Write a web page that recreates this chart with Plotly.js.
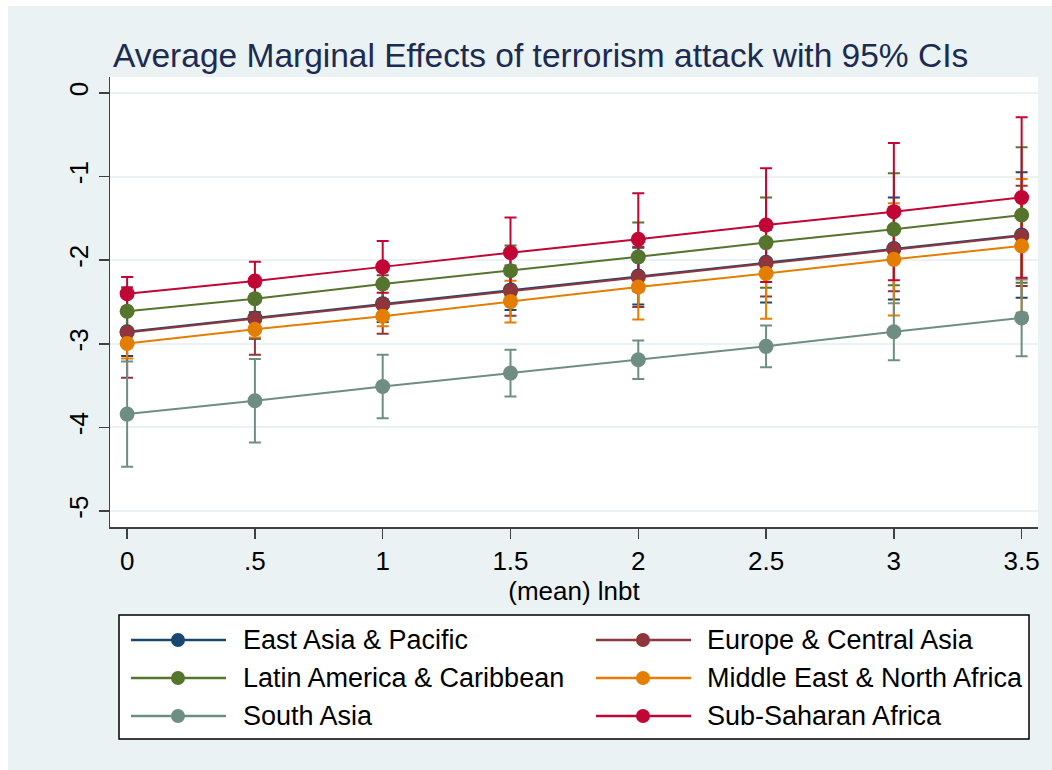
<!DOCTYPE html>
<html>
<head>
<meta charset="utf-8">
<script src="https://cdn.plot.ly/plotly-3.0.1.min.js"></script>
<style>
html,body{margin:0;padding:0;background:#ffffff;}
#chart{width:1052px;height:770px;}
</style>
</head>
<body>
<div id="chart"></div>
<script>
// ---- data ----
var xs = [0, 0.5, 1, 1.5, 2, 2.5, 3, 3.5];
var xTickLabels = ["0", ".5", "1", "1.5", "2", "2.5", "3", "3.5"];
var yTickVals = [0, -1, -2, -3, -4, -5];
var yTickLabels = ["0", "-1", "-2", "-3", "-4", "-5"];

var regions = ["East Asia & Pacific", "Europe & Central Asia", "Latin America & Caribbean",
               "Middle East & North Africa", "South Asia", "Sub-Saharan Africa"];
var colors = ["#1a476f", "#90353b", "#55752f", "#e37e00", "#6e8e84", "#c10534"];

var eastAsia      = [-2.855, -2.69, -2.52, -2.355, -2.19, -2.025, -1.86, -1.70];
var europe        = [-2.865, -2.70, -2.53, -2.365, -2.20, -2.035, -1.87, -1.71];
var latinAmerica  = [-2.61, -2.46, -2.285, -2.125, -1.96, -1.79, -1.63, -1.46];
var middleEast    = [-2.995, -2.825, -2.67, -2.495, -2.32, -2.16, -1.99, -1.83];
var southAsia     = [-3.84, -3.68, -3.51, -3.35, -3.19, -3.03, -2.855, -2.69];
var subSaharan    = [-2.40, -2.25, -2.08, -1.91, -1.75, -1.58, -1.42, -1.25];

var eastAsiaCI     = [0.29, 0.25, 0.22, 0.24, 0.34, 0.48, 0.61, 0.75];
var europeCI       = [0.54, 0.43, 0.35, 0.30, 0.36, 0.40, 0.50, 0.60];
var latinAmericaCI = [0.20, 0.16, 0.19, 0.30, 0.41, 0.54, 0.67, 0.81];
var middleEastCI   = [0.18, 0.10, 0.12, 0.25, 0.39, 0.54, 0.67, 0.80];
var southAsiaCI    = [0.63, 0.50, 0.38, 0.28, 0.23, 0.25, 0.34, 0.46];
var subSaharanCI   = [0.20, 0.23, 0.31, 0.42, 0.55, 0.68, 0.82, 0.96];

var series = [eastAsia, europe, latinAmerica, middleEast, southAsia, subSaharan];
var cis = [eastAsiaCI, europeCI, latinAmericaCI, middleEastCI, southAsiaCI, subSaharanCI];

// ---- layout geometry (pixels) ----
var W = 1052, H = 770;
var mL = 110, mR = 14, mT = 77, mB = 243;
var pw = W - mL - mR, ph = H - mT - mB;
function px(x){ return (x - mL) / pw; }
function py(y){ return (H - mB - y) / ph; }

var FONT = "Liberation Sans, Arial, sans-serif";

var traces = [];
// confidence intervals first (drawn beneath lines)
for (var i = 0; i < series.length; i++) {
  traces.push({
    x: xs, y: series[i], type: "scatter", mode: "markers",
    marker: {size: 1, opacity: 0, color: colors[i]},
    error_y: {type: "data", array: cis[i], symmetric: true, color: colors[i], thickness: 2, width: 6},
    showlegend: false, hoverinfo: "skip"
  });
}
for (var j = 0; j < series.length; j++) {
  traces.push({
    x: xs, y: series[j], type: "scatter", mode: "lines+markers", name: regions[j],
    line: {color: colors[j], width: 2},
    marker: {color: colors[j], size: 15, line: {width: 0}},
    showlegend: false
  });
}

// ---- custom legend ----
var shapes = [];
var annotations = [];
// outer white frame at left/top
shapes.push({type: "rect", xref: "paper", yref: "paper", x0: px(0), x1: px(8), y0: py(H), y1: py(0),
  fillcolor: "#ffffff", line: {width: 0}, layer: "below"});
shapes.push({type: "rect", xref: "paper", yref: "paper", x0: px(0), x1: px(W), y0: py(6), y1: py(0),
  fillcolor: "#ffffff", line: {width: 0}, layer: "below"});
// legend box
shapes.push({type: "rect", xref: "paper", yref: "paper", x0: px(119), x1: px(1029), y0: py(739), y1: py(615),
  fillcolor: "#ffffff", line: {color: "#000000", width: 1.5}});
var colLineX = [[131, 226], [596, 691]];
var colMarkX = [178, 643];
var colTextX = [241, 705];
var rowY = [640, 678, 716];
for (var k = 0; k < regions.length; k++) {
  var c = k % 2, r = Math.floor(k / 2);
  shapes.push({type: "line", xref: "paper", yref: "paper",
    x0: px(colLineX[c][0]), x1: px(colLineX[c][1]), y0: py(rowY[r]), y1: py(rowY[r]),
    line: {color: colors[k], width: 2.5}});
  shapes.push({type: "circle", xref: "paper", yref: "paper", xsizemode: "pixel", ysizemode: "pixel",
    xanchor: px(colMarkX[c]), yanchor: py(rowY[r]), x0: -7, x1: 7, y0: -7, y1: 7,
    fillcolor: colors[k], line: {width: 0}});
  annotations.push({xref: "paper", yref: "paper", x: px(colTextX[c]), y: py(rowY[r]),
    xanchor: "left", yanchor: "middle", text: regions[k], showarrow: false,
    font: {family: FONT, size: 27, color: "#000000"}});
}

var layout = {
  width: W, height: H,
  margin: {l: mL, r: mR, t: mT, b: mB, pad: 0},
  paper_bgcolor: "#eaf2f3",
  plot_bgcolor: "#ffffff",
  showlegend: false,
  title: {text: "Average Marginal Effects of terrorism attack with 95% CIs",
    font: {family: FONT, size: 33.5, color: "#1c2b52"},
    xref: "paper", x: px(113), xanchor: "left",
    yref: "container", y: 1 - 55 / H, yanchor: "middle"},
  xaxis: {
    range: [-0.067, 3.564], tickvals: xs, ticktext: xTickLabels,
    ticks: "outside", ticklen: 10, tickwidth: 1.5, tickcolor: "#404040",
    showline: true, linecolor: "#404040", linewidth: 1.5, mirror: false,
    showgrid: false, zeroline: false,
    tickfont: {family: FONT, size: 26, color: "#000000"},
    title: {text: "(mean) lnbt", font: {family: FONT, size: 26, color: "#000000"}, standoff: 6}
  },
  yaxis: {
    range: [-5.19, 0.19], tickvals: yTickVals, ticktext: yTickLabels, tickangle: -90,
    ticks: "outside", ticklen: 10, tickwidth: 1.5, tickcolor: "#404040",
    showline: true, linecolor: "#404040", linewidth: 1.5, mirror: false,
    showgrid: true, gridcolor: "#eaf2f3", gridwidth: 2, zeroline: false,
    tickfont: {family: FONT, size: 26, color: "#000000"}
  },
  shapes: shapes,
  annotations: annotations,
  font: {family: FONT}
};

Plotly.newPlot("chart", traces, layout, {displayModeBar: false, staticPlot: true});
</script>
</body>
</html>
